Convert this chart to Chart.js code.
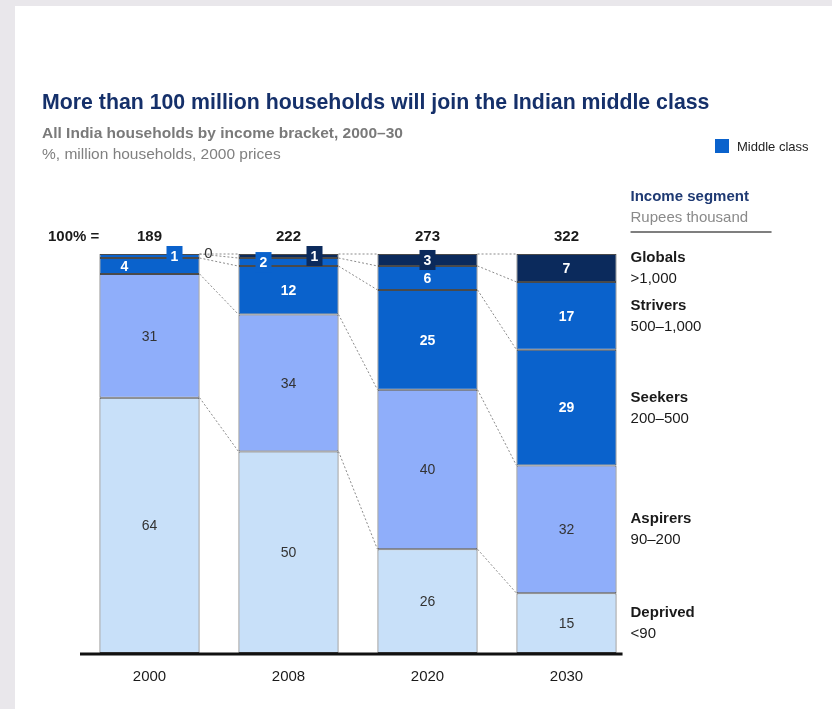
<!DOCTYPE html>
<html>
<head>
<meta charset="utf-8">
<script src="https://cdn.jsdelivr.net/npm/chart.js@4"></script>
<style>
  body { margin: 0; background: #fff; }
</style>
</head>
<body>
<canvas id="chart" width="832" height="709"></canvas>
<script>
// data
const years = ['2000', '2008', '2020', '2030'];
const totals = [189, 222, 273, 322]; // million households = 100%
const deprived = [64, 50, 26, 15];
const aspirers = [31, 34, 40, 32];
const seekers = [4, 12, 25, 29];
const strivers = [1, 2, 6, 17];
const globals = [0, 1, 3, 7];

const segNames = ['Deprived', 'Aspirers', 'Seekers', 'Strivers', 'Globals'];
const segRanges = ['<90', '90–200', '200–500', '500–1,000', '>1,000'];
const segValues = [deprived, aspirers, seekers, strivers, globals];
const segColors = ['#c8e0f9', '#8faefa', '#0a62cc', '#0a62cc', '#0b2a5c'];

const FONT = "'Liberation Sans', Arial, sans-serif";

// each column is scaled so the bar fills 100%
const sums = years.map((y, j) => segValues.reduce((s, arr) => s + arr[j], 0));

// where the tiny segment labels sit ("dataset-bar")
const smallLabels = {
  '2-0': { dx: -25 },
  '3-0': { dx: 25, box: true },
  '4-0': { outside: true },
  '3-1': { dx: -25, box: true },
  '4-1': { dx: 26, box: true },
  '4-2': { box: true }
};

const extras = {
  id: 'extras',
  beforeDraw(chart) {
    const ctx = chart.ctx;
    ctx.save();
    ctx.fillStyle = '#e9e7eb';
    ctx.fillRect(0, 0, chart.width, chart.height);
    ctx.fillStyle = '#ffffff';
    ctx.fillRect(15, 6, chart.width - 15, chart.height - 6);
    ctx.restore();
  },
  beforeDatasetsDraw(chart) {
    // dotted connectors between segment tops
    const ctx = chart.ctx;
    const yScale = chart.scales.y;
    const meta0 = chart.getDatasetMeta(0);
    ctx.save();
    ctx.strokeStyle = '#8c8c8c';
    ctx.lineWidth = 1;
    ctx.setLineDash([2, 2]);
    for (let j = 0; j < years.length - 1; j++) {
      const a = meta0.data[j], b = meta0.data[j + 1];
      let cumA = 0, cumB = 0;
      for (let i = 0; i < segValues.length; i++) {
        cumA += segValues[i][j] / sums[j] * 100;
        cumB += segValues[i][j + 1] / sums[j + 1] * 100;
        ctx.beginPath();
        ctx.moveTo(a.x + a.width / 2, yScale.getPixelForValue(cumA));
        ctx.lineTo(b.x - b.width / 2, yScale.getPixelForValue(cumB));
        ctx.stroke();
      }
    }
    ctx.restore();
  },
  afterDatasetsDraw(chart) {
    const ctx = chart.ctx;
    const area = chart.chartArea;
    ctx.save();
    ctx.textBaseline = 'middle';

    // segment values
    for (let i = 0; i < segValues.length; i++) {
      const meta = chart.getDatasetMeta(i);
      meta.data.forEach((bar, j) => {
        const v = segValues[i][j];
        const s = smallLabels[i + '-' + j] || {};
        const dark = i >= 2;
        let x = bar.x + (s.dx || 0);
        const y = (bar.y + bar.base) / 2;
        ctx.textAlign = 'center';
        if (s.outside) {
          ctx.font = '15px ' + FONT;
          ctx.fillStyle = '#333';
          ctx.fillText(String(v), bar.x + bar.width / 2 + 9, y);
          return;
        }
        if (s.box) {
          ctx.fillStyle = segColors[i];
          ctx.fillRect(x - 8, y - 10, 16, 20);
        }
        ctx.font = (dark ? 'bold ' : '') + '14px ' + FONT;
        ctx.fillStyle = dark ? '#ffffff' : '#333333';
        ctx.fillText(String(v), x, y + 1);
      });
    }

    // totals above bars
    const meta0 = chart.getDatasetMeta(0);
    ctx.font = 'bold 15px ' + FONT;
    ctx.fillStyle = '#1a1a1a';
    ctx.textAlign = 'center';
    meta0.data.forEach((bar, j) => ctx.fillText(String(totals[j]), bar.x, area.top - 17));
    ctx.textAlign = 'left';
    ctx.fillText('100% =', 48, area.top - 17);

    // baseline
    const last = meta0.data[meta0.data.length - 1];
    ctx.strokeStyle = '#111';
    ctx.lineWidth = 3;
    ctx.beginPath();
    ctx.moveTo(area.left, area.bottom + 1);
    ctx.lineTo(last.x + last.width / 2 + 6, area.bottom + 1);
    ctx.stroke();

    // segment names beside the last bar
    const lastIdx = years.length - 1;
    const nx = last.x + last.width / 2 + 14;
    for (let i = 0; i < segNames.length; i++) {
      const bar = chart.getDatasetMeta(i).data[lastIdx];
      const cy = (bar.y + bar.base) / 2;
      ctx.fillStyle = '#1a1a1a';
      ctx.font = 'bold 15px ' + FONT;
      ctx.fillText(segNames[i], nx, cy - 10);
      ctx.font = '15px ' + FONT;
      ctx.fillText(segRanges[i], nx, cy + 11);
    }

    // header of the side legend
    ctx.fillStyle = '#1f3a73';
    ctx.font = 'bold 15px ' + FONT;
    ctx.fillText('Income segment', nx, 197);
    ctx.fillStyle = '#8a8a8a';
    ctx.font = '15px ' + FONT;
    ctx.fillText('Rupees thousand', nx, 218);
    ctx.strokeStyle = '#555';
    ctx.lineWidth = 1.5;
    ctx.beginPath();
    ctx.moveTo(nx, 232);
    ctx.lineTo(nx + 141, 232);
    ctx.stroke();

    // middle class key
    ctx.fillStyle = segColors[2];
    ctx.fillRect(715, 139, 14, 14);
    ctx.fillStyle = '#222';
    ctx.font = '13px ' + FONT;
    ctx.fillText('Middle class', 737, 147);

    // titles
    ctx.fillStyle = '#15306a';
    ctx.font = 'bold 21.3px ' + FONT;
    ctx.fillText('More than 100 million households will join the Indian middle class', 42, 103);
    ctx.fillStyle = '#7a7a7a';
    ctx.font = 'bold 15.5px ' + FONT;
    ctx.fillText('All India households by income bracket, 2000–30', 42, 134);
    ctx.fillStyle = '#808080';
    ctx.font = '15.5px ' + FONT;
    ctx.fillText('%, million households, 2000 prices', 42, 155);
    ctx.restore();
  }
};

const ctx = document.getElementById('chart').getContext('2d');
new Chart(ctx, {
  type: 'bar',
  data: {
    labels: years,
    datasets: segNames.map((name, i) => ({
      label: name,
      data: segValues[i].map((v, j) => v / sums[j] * 100),
      backgroundColor: segColors[i],
      borderColor: '#4a4a4a',
      borderWidth: 1,
      borderSkipped: false,
      barPercentage: 0.72,
      categoryPercentage: 1
    }))
  },
  options: {
    responsive: false,
    animation: false,
    layout: { padding: { top: 254, left: 80, right: 196, bottom: 8 } },
    plugins: {
      legend: { display: false },
      tooltip: { enabled: false }
    },
    scales: {
      x: {
        stacked: true,
        grid: { display: false, drawTicks: false },
        border: { display: false },
        ticks: { color: '#1a1a1a', font: { family: FONT, size: 15 }, padding: 15 }
      },
      y: {
        stacked: true,
        display: false,
        min: 0,
        max: 100
      }
    }
  },
  plugins: [extras]
});
</script>
</body>
</html>
